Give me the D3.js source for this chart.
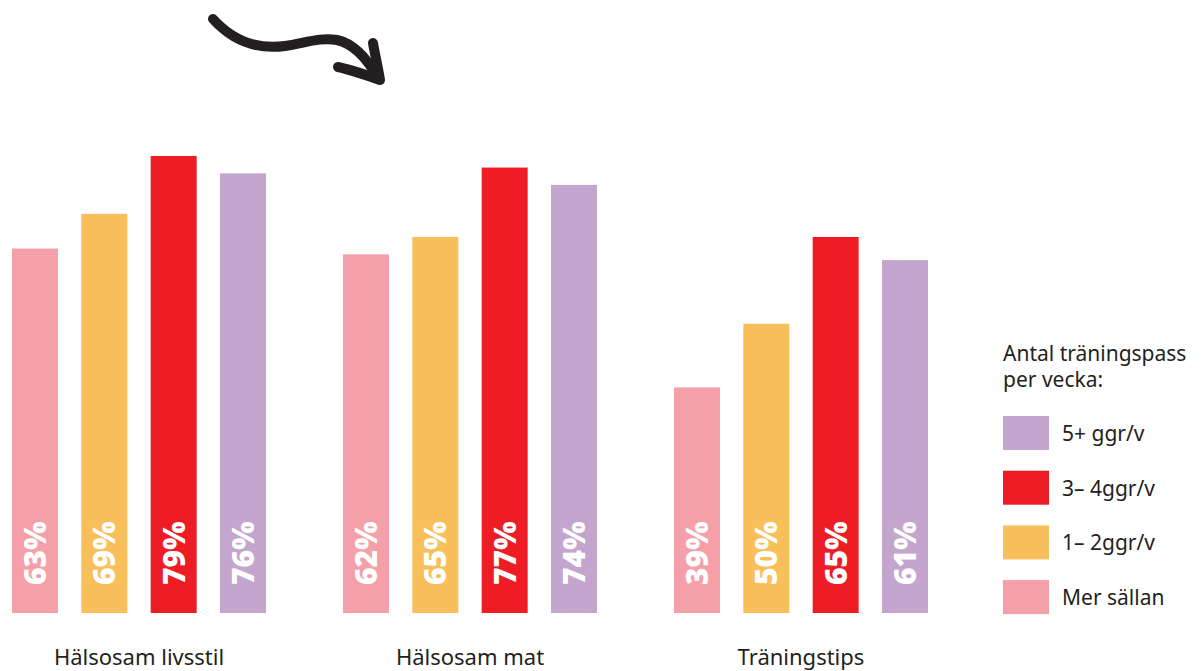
<!DOCTYPE html>
<html>
<head>
<meta charset="utf-8">
<script src="https://cdn.jsdelivr.net/npm/d3@7"></script>
<style>
  html, body { margin: 0; padding: 0; background: #ffffff; }
  svg { display: block; }
</style>
</head>
<body>
<svg id="chart" width="1202" height="671"></svg>
<script>
// Andel som vill ha hälsosam livsstil, mat och träningstips, per träningsfrekvens
const categories = ["Hälsosam livsstil", "Hälsosam mat", "Träningstips"];
const seriesNames = ["Mer sällan", "1–2ggr/v", "3–4ggr/v", "5+ ggr/v"];
const legendLabels = ["5+ ggr/v", "3– 4ggr/v", "1– 2ggr/v", "Mer sällan"];
const legendTitle = ["Antal träningspass", "per vecka:"];
const merSallan = [63, 62, 39];
const enTvaGgr = [69, 65, 50];
const treFyraGgr = [79, 77, 65];
const femPlusGgr = [76, 74, 61];
const seriesColors = ["#F5A0A9", "#F9BF5B", "#EE1C25", "#C4A5CE"];

const seriesValues = [merSallan, enTvaGgr, treFyraGgr, femPlusGgr];

const svg = d3.select("#chart");

const x0 = d3.scaleBand()
  .domain(categories)
  .range([12, 928])
  .paddingInner(0.2326)
  .paddingOuter(0);

const x1 = d3.scaleBand()
  .domain(seriesNames)
  .range([0, x0.bandwidth()])
  .paddingInner(0.3365)
  .paddingOuter(0);

const y = d3.scaleLinear()
  .domain([0, 100])
  .range([613, 34.5]);

const groups = svg.append("g").selectAll("g")
  .data(categories)
  .join("g")
  .attr("transform", d => `translate(${x0(d)},0)`);

groups.each(function(cat, ci) {
  const g = d3.select(this);
  const rows = seriesNames.map((s, si) => ({ s, si, v: seriesValues[si][ci] }));
  g.selectAll("rect")
    .data(rows)
    .join("rect")
    .attr("x", d => x1(d.s))
    .attr("y", d => y(d.v))
    .attr("width", x1.bandwidth())
    .attr("height", d => y(0) - y(d.v))
    .attr("fill", d => seriesColors[d.si]);

  g.selectAll("text.val")
    .data(rows)
    .join("text")
    .attr("class", "val")
    .attr("transform", d => `translate(${x1(d.s) + x1.bandwidth() / 2 + 11},${y(0) - 28}) rotate(-90)`)
    .attr("text-anchor", "start")
    .attr("font-family", "'Open Sans', sans-serif")
    .attr("font-weight", 800)
    .attr("font-size", 30)
    .attr("fill", "#ffffff")
    .text(d => d.v + "%");
});

// kategorinamn under staplarna
svg.append("g").selectAll("text")
  .data(categories)
  .join("text")
  .attr("x", d => x0(d) + x0.bandwidth() / 2)
  .attr("y", 665)
  .attr("text-anchor", "middle")
  .attr("font-family", "'Noto Sans', sans-serif")
  .attr("font-size", 22)
  .attr("fill", "#231f20")
  .text(d => d);

// teckenförklaring
const legend = svg.append("g").attr("transform", "translate(1003,0)");
legend.selectAll("text.title")
  .data(legendTitle)
  .join("text")
  .attr("class", "title")
  .attr("x", 0)
  .attr("y", (d, i) => 361 + i * 26)
  .attr("font-family", "'Noto Sans', sans-serif")
  .attr("font-size", 21)
  .attr("fill", "#231f20")
  .text(d => d);

const legendColors = [seriesColors[3], seriesColors[2], seriesColors[1], seriesColors[0]];
const items = legend.selectAll("g.item")
  .data(legendLabels)
  .join("g")
  .attr("class", "item")
  .attr("transform", (d, i) => `translate(0,${416 + i * 54.7})`);
items.append("rect")
  .attr("width", 46)
  .attr("height", 34)
  .attr("fill", (d, i) => legendColors[i]);
items.append("text")
  .attr("x", 59)
  .attr("y", 25)
  .attr("font-family", "'Noto Sans', sans-serif")
  .attr("font-size", 21)
  .attr("fill", "#231f20")
  .text(d => d);

// handritad pil
const arrow = svg.append("g")
  .attr("fill", "none")
  .attr("stroke", "#231f20")
  .attr("stroke-width", 10)
  .attr("stroke-linecap", "round")
  .attr("stroke-linejoin", "round");
arrow.append("path")
  .attr("d", "M213,19 C232,40 255,50 285,46 C305,43 320,37 337,40 C355,44 368,60 378,78");
arrow.append("path")
  .attr("d", "M338,67 C352,70 366,75 380,80 C378,67 375,55 373,43");
</script>
</body>
</html>
